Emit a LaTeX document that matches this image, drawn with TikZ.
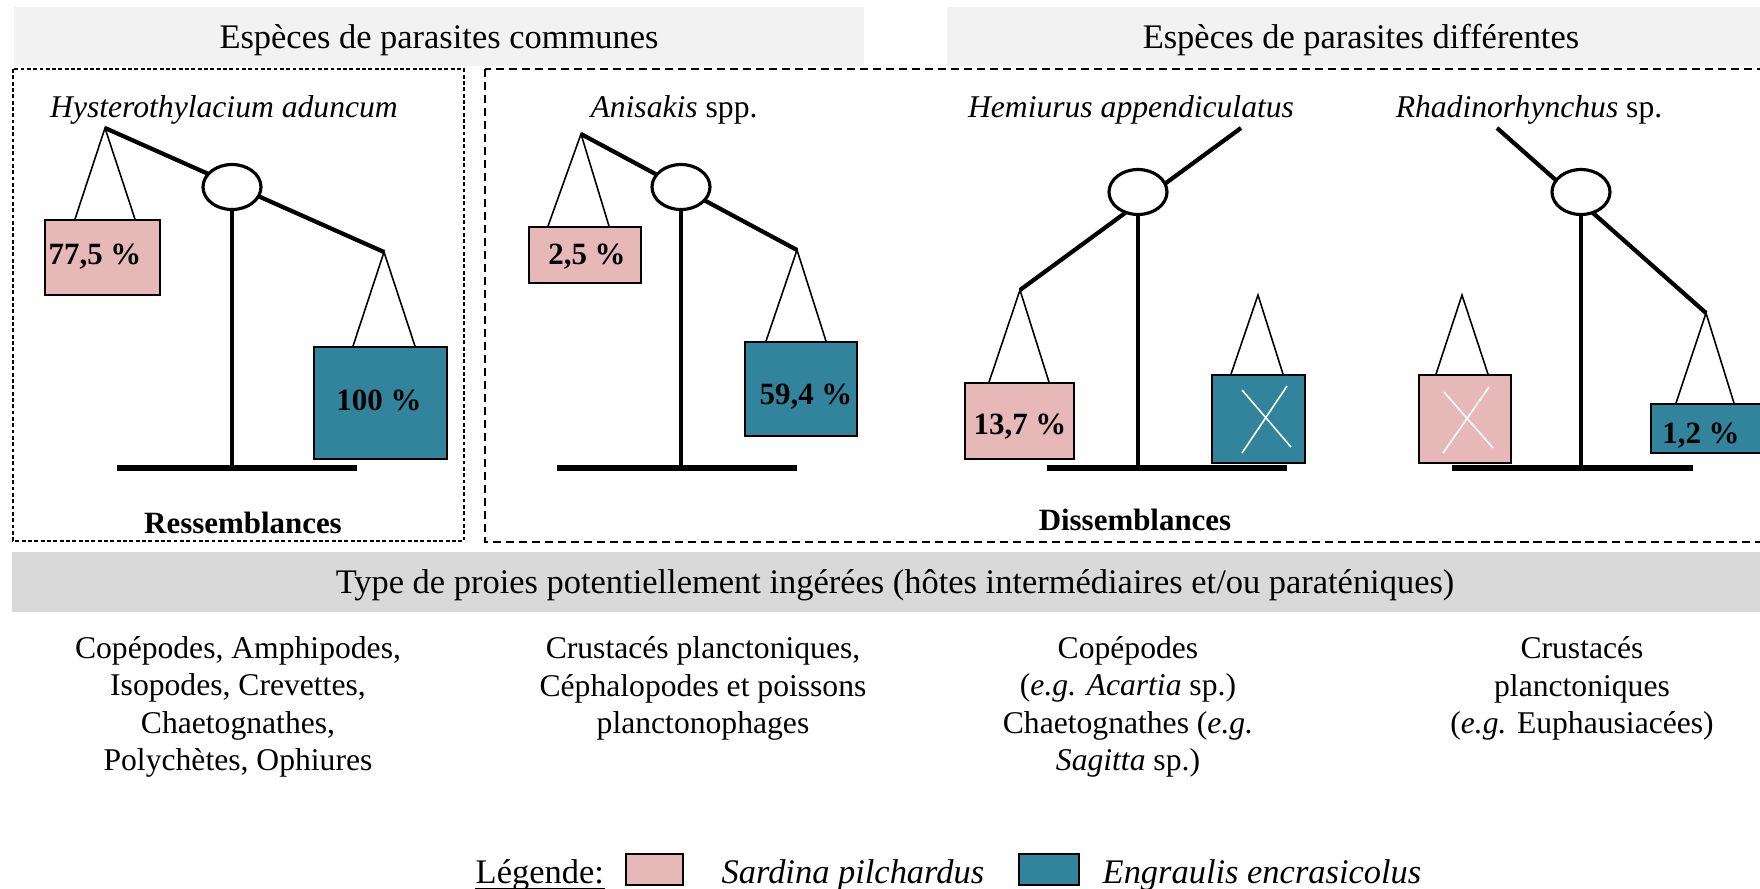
\documentclass[tikz,border=0pt]{standalone}
\usepackage{fontspec}
\setmainfont{Liberation Serif}
\usepackage{xcolor}
\usetikzlibrary{calc,positioning}
\definecolor{sardine}{HTML}{E6B8B7}
\definecolor{anchois}{HTML}{31849B}
\definecolor{hdrgray}{HTML}{F2F2F2}
\definecolor{bandgray}{HTML}{D9D9D9}

\begin{document}
\begin{tikzpicture}[x=1cm,y=-1cm,
  beam/.style={line width=1.2pt},
  post/.style={line width=1pt},
  foot/.style={line width=1.5pt},
  cord/.style={line width=0.45pt},
  pivot/.style={line width=0.9pt,fill=white},
  pbox/.style={draw,line width=0.5pt,fill=sardine,inner sep=0pt},
  tbox/.style={draw,line width=0.5pt,fill=anchois,inner sep=0pt},
  val/.style={font=\fontsize{8.8}{10}\selectfont\bfseries},
  big/.style={font=\fontsize{9.8}{11}\selectfont},
  small/.style={font=\fontsize{9}{10.67}\selectfont,align=center}]
\useasboundingbox (0,0) rectangle (17.6,8.88);
\clip (0,0) rectangle (17.6,8.88);
% headers
\fill[hdrgray] (0.14,0.07) rectangle (8.64,0.66);
\node[big] (H1) at (4.39,0.40) {Espèces de parasites communes};
\fill[hdrgray] (9.47,0.07) rectangle (17.8,0.66);
\node[big] (H2) at (13.61,0.40) {Espèces de parasites différentes};
% frames
\draw[line width=0.45pt,dash pattern=on 1.1pt off 0.7pt] (0.13,0.69) rectangle (4.64,5.41);
\draw[line width=0.45pt,dash pattern=on 2.3pt off 1.4pt] (4.85,0.69) rectangle (17.9,5.42);
\node[small] (T1) at (2.24,1.10) {\textit{Hysterothylacium aduncum}};
\node[small] (T2) at (6.74,1.10) {\textit{Anisakis} spp.};
\node[small] (T3) at (11.31,1.10) {\textit{Hemiurus appendiculatus}};
\node[small] (T4) at (15.29,1.10) {\textit{Rhadinorhynchus} sp.};

% balance 1
\coordinate (L1) at (1.05,1.28); \coordinate (R1) at (3.84,2.52); \coordinate (O1) at (2.32,1.87);
\draw[beam] (L1)--(R1);
\draw[foot] (1.17,4.68)--(3.57,4.68);
\draw[post] (O1)--(2.32,4.68);
\draw[pivot] (O1) ellipse [x radius=0.29,y radius=0.225];
\node[pbox,minimum width=1.15cm,minimum height=0.75cm] (P1) at (1.025,2.575) {};
\node[val] (V1) at (0.95,2.57) {77,5 \%};
\draw[cord] ($(L1|-P1.north)+(-0.3,0)$)--(L1)--($(L1|-P1.north)+(0.3,0)$);
\node[tbox,minimum width=1.33cm,minimum height=1.12cm] (E1) at (3.805,4.03) {};
\node[val] (W1) at (3.79,4.00) {100 \%};
\draw[cord] ($(R1|-E1.north)+(-0.31,0)$)--(R1)--($(R1|-E1.north)+(0.31,0)$);

% balance 2
\coordinate (L2) at (5.81,1.34); \coordinate (R2) at (7.97,2.50); \coordinate (O2) at (6.81,1.87);
\draw[beam] (L2)--(R2);
\draw[foot] (5.57,4.68)--(7.97,4.68);
\draw[post] (O2)--(6.81,4.68);
\draw[pivot] (O2) ellipse [x radius=0.29,y radius=0.225];
\node[pbox,minimum width=1.12cm,minimum height=0.56cm] (P2) at (5.85,2.55) {};
\node[val] (V2) at (5.87,2.57) {2,5 \%};
\draw[cord] ($(L2|-P2.north)+(-0.33,0)$)--(L2)--($(L2|-P2.north)+(0.28,0)$);
\node[tbox,minimum width=1.12cm,minimum height=0.94cm] (E2) at (8.01,3.89) {};
\node[val] (W2) at (8.06,3.97) {59,4 \%};
\draw[cord] ($(R2|-E2.north)+(-0.31,0)$)--(R2)--($(R2|-E2.north)+(0.29,0)$);

% balance 3
\coordinate (L3) at (10.20,2.90); \coordinate (R3) at (12.41,1.28); \coordinate (O3) at (11.38,1.92);
\coordinate (A3) at (12.58,2.95);
\draw[beam] (L3)--(R3);
\draw[foot] (10.47,4.68)--(12.87,4.68);
\draw[post] (O3)--(11.38,4.71);
\draw[pivot] (O3) ellipse [x radius=0.29,y radius=0.225];
\node[pbox,minimum width=1.09cm,minimum height=0.76cm] (P3) at (10.195,4.21) {};
\node[val] (V3) at (10.20,4.27) {13,7 \%};
\draw[cord] ($(L3|-P3.north)+(-0.31,0)$)--(L3)--($(L3|-P3.north)+(0.29,0)$);
\node[tbox,minimum width=0.93cm,minimum height=0.88cm] (E3) at (12.585,4.19) {};
\draw[cord] ($(A3|-E3.north)+(-0.27,0)$)--(A3)--($(A3|-E3.north)+(0.25,0)$);
\draw[white,line width=0.45pt] (12.42,3.90)--(12.91,4.47) (12.87,3.86)--(12.42,4.53);

% balance 4
\coordinate (L4) at (14.97,1.28); \coordinate (R4) at (17.06,3.13); \coordinate (O4) at (15.81,1.92);
\coordinate (A4) at (14.62,2.95);
\draw[beam] (L4)--(R4);
\draw[foot] (14.52,4.68)--(16.93,4.68);
\draw[post] (O4)--(15.81,4.71);
\draw[pivot] (O4) ellipse [x radius=0.29,y radius=0.225];
\node[pbox,minimum width=0.92cm,minimum height=0.88cm] (P4) at (14.65,4.19) {};
\draw[cord] ($(A4|-P4.north)+(-0.26,0)$)--(A4)--($(A4|-P4.north)+(0.26,0)$);
\draw[white,line width=0.45pt] (14.44,3.92)--(14.93,4.48) (14.89,3.87)--(14.43,4.53);
\node[tbox,minimum width=1.3cm,minimum height=0.49cm] (E4) at (17.16,4.285) {};
\draw[cord] ($(R4|-E4.north)+(-0.30,0)$)--(R4)--($(R4|-E4.north)+(0.28,0)$);
\node[val] (W4) at (17.01,4.36) {1,2 \%};

\node[val] (S1) at (2.43,5.23) {Ressemblances};
\node[val] (S2) at (11.35,5.20) {Dissemblances};

% prey types
\fill[bandgray] (0.12,5.52) rectangle (17.8,6.12);
\node[big] (TP) at (8.95,5.85) {Type de proies potentiellement ingérées (hôtes intermédiaires et/ou paraténiques)};
\node[small] (C1) at (2.38,7.07) {Copépodes, Amphipodes,\\Isopodes, Crevettes,\\Chaetognathes,\\Polychètes, Ophiures};
\node[small] (C2) at (7.03,6.885) {Crustacés planctoniques,\\Céphalopodes et poissons\\planctonophages};
\node[small] (C3) at (11.28,7.07) {Copépodes\\(\textit{e.g.} \textit{Acartia} sp.)\\Chaetognathes (\textit{e.g.}\\\textit{Sagitta} sp.)};
\node[small] (C4) at (15.82,6.885) {Crustacés\\planctoniques\\(\textit{e.g.} Euphausiacées)};

% legend
\node[big,anchor=base west,inner sep=0pt] (LG) at (4.75,8.83) {Légende:};
\draw[line width=0.5pt] ([yshift=-1.6pt]LG.base west)--([yshift=-1.6pt]LG.base east);
\draw[line width=0.5pt,fill=sardine] (6.26,8.54) rectangle (6.83,8.85);
\node[big,anchor=base west,inner sep=0pt] (SP) at (7.21,8.83) {\textit{Sardina pilchardus}};
\draw[line width=0.5pt,fill=anchois] (10.19,8.54) rectangle (10.79,8.85);
\node[big,anchor=base west,inner sep=0pt] (EN) at (11.02,8.83) {\textit{Engraulis encrasicolus}};
\end{tikzpicture}
\end{document}
